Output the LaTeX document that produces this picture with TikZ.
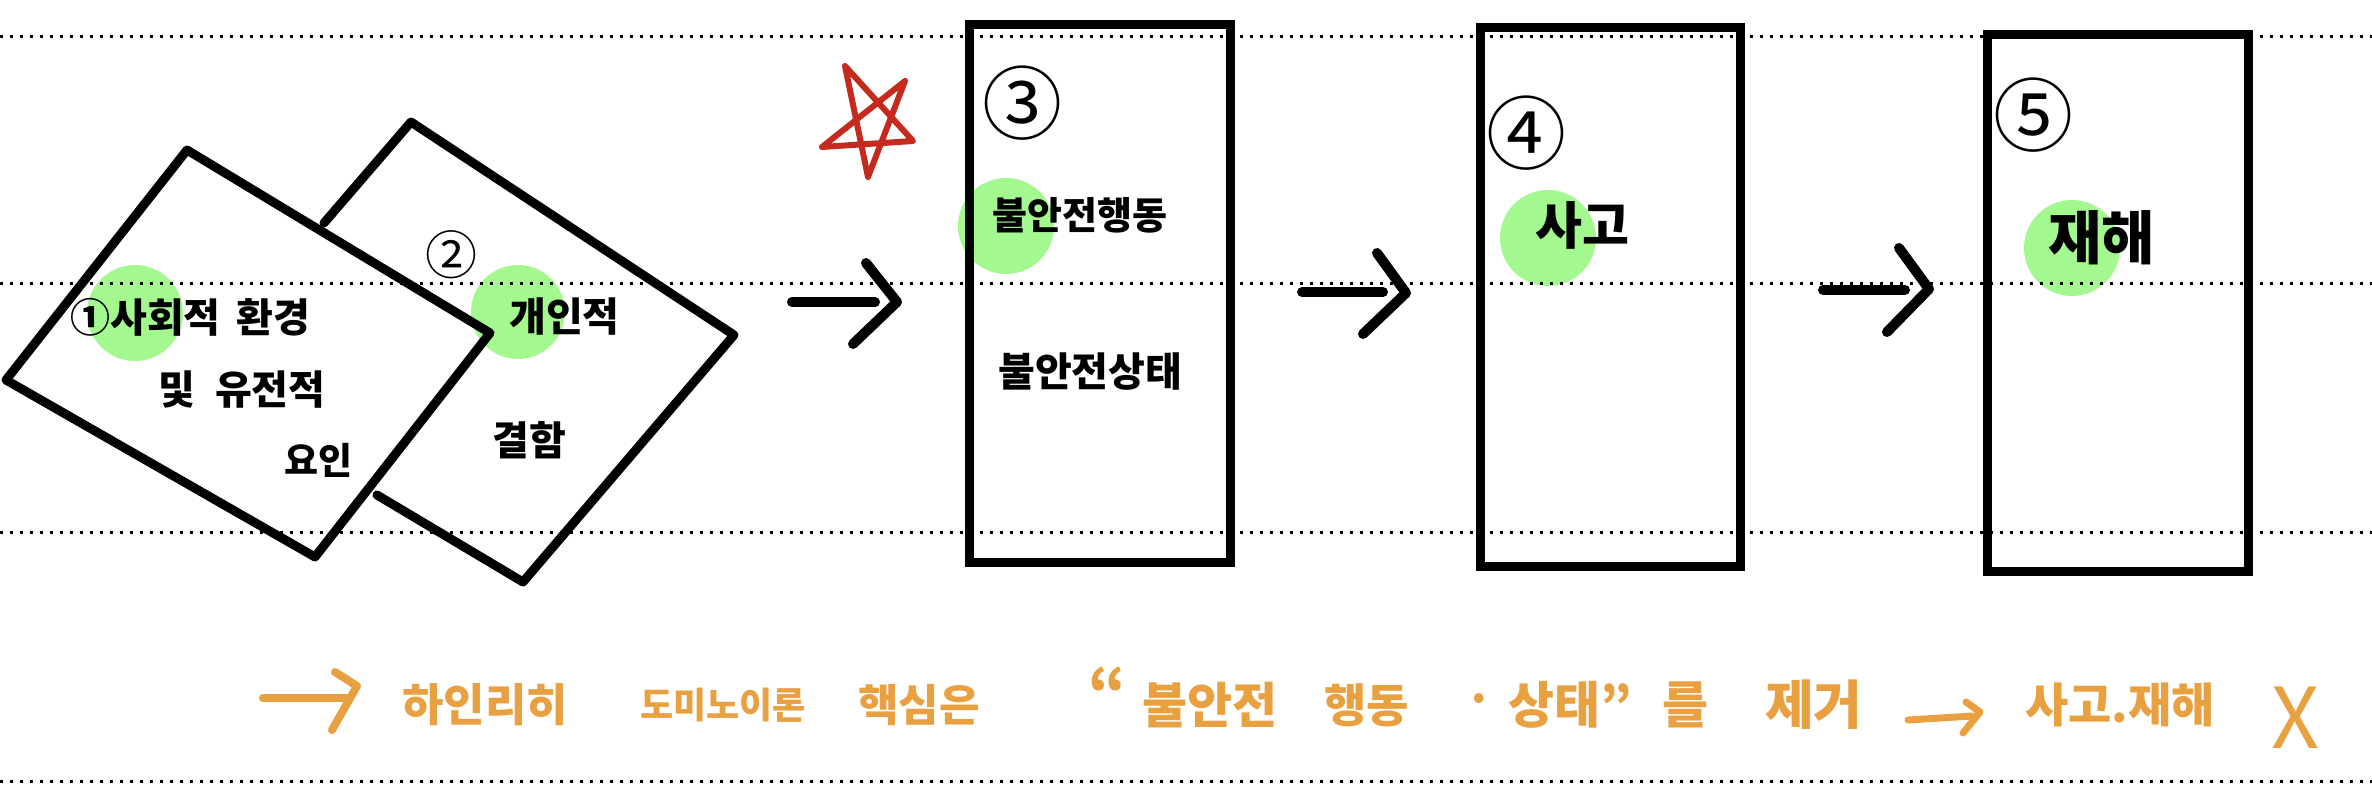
\documentclass[tikz,border=0pt]{standalone}
\usepackage{fontspec}
\newfontfamily\kr{Noto Sans CJK KR}
\definecolor{hl}{HTML}{A3F98F}
\definecolor{org}{HTML}{E8A040}
\definecolor{starred}{HTML}{C42A1E}
\newcommand{\fsz}[1]{\fontsize{#1}{#1}\selectfont}
\begin{document}
\begin{tikzpicture}[x=1pt,y=-1pt,
  every node/.style={inner sep=0pt},
  edge/.style={draw=black, line width=9pt, line join=round, line cap=round},
  guide/.style={draw=black, line width=3pt, dash pattern=on 3pt off 7pt},
  hlspot/.style={fill=hl, draw=none},
  flow/.style={draw=black, line width=10pt, line cap=round, line join=round},
  oflow/.style={draw=org, line width=8pt, line cap=round, line join=round},
  panel/.style={draw=black, line width=9pt, rectangle, minimum width=261pt, minimum height=537pt},
  lbl/.style={anchor=west, font=\kr\bfseries\fsz{40}},
  num/.style={font=\kr\fsz{80}},
  note/.style={anchor=west, text=org, font=\kr\bfseries\fsz{45}}
]
\fill[white] (0,0) rectangle (2372,799);
\useasboundingbox (0,0) rectangle (2372,799);

% green highlights
\fill[hlspot] (135,313) circle (48);
\fill[hlspot] (518,312) circle (47);
\fill[hlspot] (1006,226) circle (48);
\fill[hlspot] (1548,238) circle (48);
\fill[hlspot] (2072,248) circle (48);

% dotted guide lines
\foreach \yy in {37,284,532,781} \draw[guide] (0,\yy) -- (2372,\yy);

% card 2 (behind)
\coordinate (c2a) at (324,223);
\coordinate (c2t) at (411,122);
\coordinate (c2r) at (734,335);
\coordinate (c2b) at (523,582);
\coordinate (c2c) at (377,495);
\draw[edge] (c2a) -- (c2t) -- (c2r) -- (c2b) -- (c2c);

% card 1 (front)
\coordinate (c1t) at (187,150);
\coordinate (c1r) at (490,333);
\coordinate (c1b) at (315,557);
\coordinate (c1l) at (6,380);
\draw[edge] (c1t) -- (c1r) -- (c1b) -- (c1l) -- cycle;

% panels
\node[panel] (b3) at (1099.5,293.5) {};
\node[panel, minimum width=260pt, minimum height=538pt] (b4) at (1610,297) {};
\node[panel, minimum height=536pt] (b5) at (2117.5,303) {};

% arrows
\coordinate (a1s) at (792,302); \coordinate (a1e) at (875,302);
\coordinate (h1a) at (866,263); \coordinate (h1t) at (897,302); \coordinate (h1b) at (853,344);
\draw[flow] (a1s) -- (a1e);
\draw[flow] (h1a) -- (h1t) -- (h1b);
\coordinate (a2s) at (1302,292); \coordinate (a2e) at (1383,292);
\coordinate (h2a) at (1377,253); \coordinate (h2t) at (1406,293); \coordinate (h2b) at (1363,334);
\draw[flow] (a2s) -- (a2e);
\draw[flow] (h2a) -- (h2t) -- (h2b);
\coordinate (a3s) at (1823,290); \coordinate (a3e) at (1905,290);
\coordinate (h3a) at (1899,248); \coordinate (h3t) at (1929,289); \coordinate (h3b) at (1887,332);
\draw[flow] (a3s) -- (a3e);
\draw[flow] (h3a) -- (h3t) -- (h3b);

% star
\coordinate (sA) at (845,66); \coordinate (sB) at (905,81); \coordinate (sC) at (913,141);
\coordinate (sD) at (868,177); \coordinate (sE) at (822,147);
\draw[starred, line width=6pt, line join=round, line cap=round] (sA) -- (sD) -- (sB) -- (sE) -- (sC) -- cycle;

% card texts
\node[lbl] (t1a) at (70,317) {①사회적\hspace{16pt}환경};
\node[lbl] (t1b) at (158,390) {및\hspace{20pt}유전적};
\node[lbl, font=\kr\bfseries\fsz{37}] (t1c) at (284,460) {요인};
\node[font=\kr\fsz{52}] (t2n) at (451,255) {②};
\node[lbl] (t2a) at (509,317) {개인적};
\node[lbl] (t2b) at (492,440) {결함};

% panel texts
\node[num] (n3) at (1022,103) {③};
\node[lbl, font=\kr\bfseries\fsz{38}] (t3a) at (992,215) {불안전행동};
\node[lbl] (t3b) at (998,372) {불안전상태};
\node[num] (n4) at (1526,133) {④};
\node[lbl, font=\kr\bfseries\fsz{51}] (t4) at (1535,225) {사고};
\node[num] (n5) at (2033,115) {⑤};
\node[lbl, font=\kr\bfseries\fsz{58}] (t5) at (2048,238) {재해};

% bottom note
\coordinate (o1s) at (263,698); \coordinate (o1e) at (350,698);
\coordinate (o1a) at (335,672); \coordinate (o1t) at (357,686); \coordinate (o1b) at (332,730);
\draw[oflow] (o1s) -- (o1e);
\draw[oflow] (o1a) -- (o1t) -- (o1b);
\node[note] (w1) at (402,705) {하인리히};
\node[note, font=\kr\bfseries\fsz{36}] (w2) at (640,705) {도미노이론};
\node[note, font=\kr\bfseries\fsz{44}] (w3) at (858,705) {핵심은};
\node[note, font=\kr\bfseries\fsz{60}] (w4) at (1088,690) {“};
\node[note, font=\kr\bfseries\fsz{49}] (w5) at (1142,705) {불안전};
\node[note, font=\kr\bfseries\fsz{46}] (w6) at (1324,705) {행동};
\node[note] (w7) at (1465,705) {·};
\node[note, font=\kr\bfseries\fsz{50}] (w8) at (1508,705) {상태”};
\node[note, font=\kr\bfseries\fsz{50}] (w9) at (1662,705) {를};
\node[note, font=\kr\bfseries\fsz{53}] (w10) at (1765,705) {제거};
\coordinate (o2s) at (1908,720); \coordinate (o2e) at (1973,716);
\coordinate (o2a) at (1966,702); \coordinate (o2t) at (1980,712); \coordinate (o2b) at (1963,733);
\draw[oflow, line width=7pt] (o2s) -- (o2e);
\draw[oflow, line width=7pt] (o2a) -- (o2t) -- (o2b);
\node[note, font=\kr\bfseries\fsz{47}] (w11) at (2025,705) {사고.재해};
\node[text=org, font=\kr\fsz{84}] (w12) at (2296,718) {X};
\end{tikzpicture}
\end{document}
